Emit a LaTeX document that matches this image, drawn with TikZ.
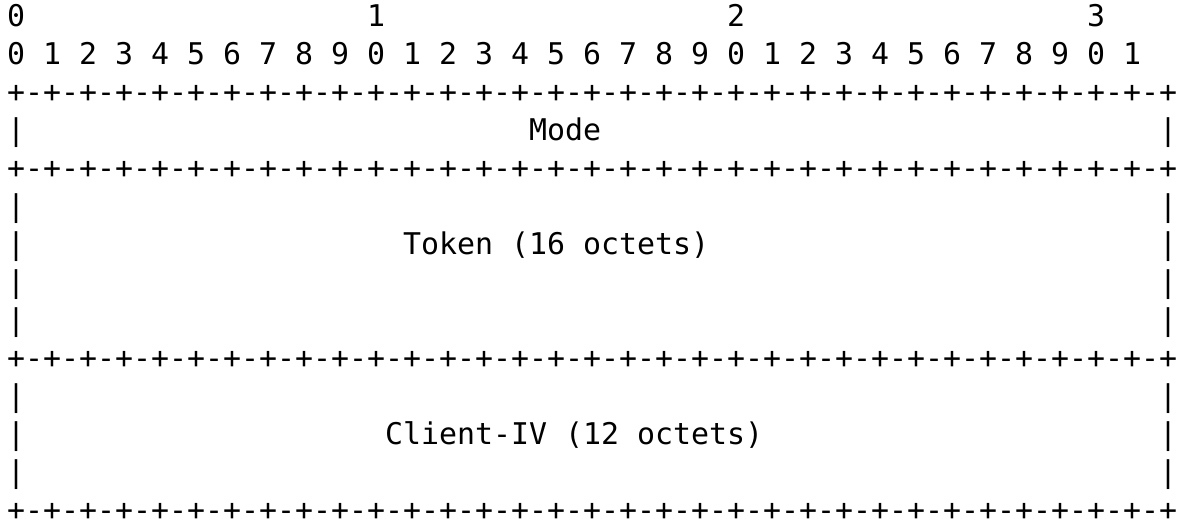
\documentclass[tikz,border=0pt]{standalone}
\usepackage{fontspec}
\setmonofont{DejaVu Sans Mono}
\newcommand{\bitrule}{+-+-+-+-+-+-+-+-+-+-+-+-+-+-+-+-+-+-+-+-+-+-+-+-+-+-+-+-+-+-+-+-+}
\tikzset{cell/.style={anchor=base west,inner sep=0pt,font=\ttfamily\fontsize{14.95}{15}\selectfont}}
\begin{document}
\begin{tikzpicture}[x=9pt,y=-19pt,every node/.style=cell]
\useasboundingbox (-3.35pt,13pt) rectangle (585.65pt,-247pt);
% bit numbers
\node (tens0) at (0,0) {0};
\node (tens1) at (20,0) {1};
\node (tens2) at (40,0) {2};
\node (tens3) at (60,0) {3};
\node (bits) at (0,1) {0 1 2 3 4 5 6 7 8 9 0 1 2 3 4 5 6 7 8 9 0 1 2 3 4 5 6 7 8 9 0 1};
% field borders
\node (rule0) at (0,2) {\bitrule};
\node (rule1) at (0,4) {\bitrule};
\node (rule2) at (0,9) {\bitrule};
\node (rule3) at (0,13) {\bitrule};
\foreach \r in {3,5,6,7,8,10,11,12} {
  \node (lside\r) at (0,\r) {|};
  \node (rside\r) at (64,\r) {|};
}
% field names
\node (mode) at (29,3) {Mode};
\node (token) at (22,6) {Token (16 octets)};
\node (clientiv) at (21,11) {Client-IV (12 octets)};
\end{tikzpicture}
\end{document}
